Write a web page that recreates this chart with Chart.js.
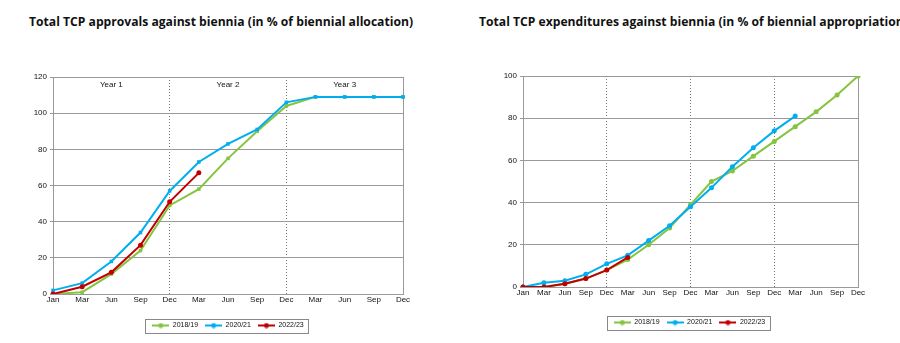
<!DOCTYPE html>
<html>
<head>
<meta charset="utf-8">
<script src="https://cdn.jsdelivr.net/npm/chart.js@4.4.1/dist/chart.umd.min.js"></script>
<style>
  body { margin: 0; background: #fff; width: 900px; height: 343px; overflow: hidden; position: relative; }
  .title { position: absolute; top: 13px; font-family: "Open Sans", sans-serif; font-weight: bold; font-size: 12.15px; color: #111; white-space: nowrap; }
  .box { position: absolute; top: 40px; width: 450px; height: 303px; }
</style>
</head>
<body>
<div class="title" style="left:29px">Total TCP approvals against biennia (in % of biennial allocation)</div>
<div class="title" style="left:479px">Total TCP expenditures against biennia (in % of biennial appropriation)</div>
<div class="box" style="left:0"><canvas id="approvals"></canvas></div>
<div class="box" style="left:450px"><canvas id="expenditures"></canvas></div>
<script>
// approvals, three years per biennium cycle
const approvalMonths = ["Jan", "Mar", "Jun", "Sep", "Dec", "Mar", "Jun", "Sep", "Dec", "Mar", "Jun", "Sep", "Dec"];
const approvals1819 = [0, 1, 11, 24, 49, 58, 75, 90, 104, 109, 109, 109, 109];
const approvals2021 = [2, 6, 18, 34, 57, 73, 83, 91, 106, 109, 109, 109, 109];
const approvals2223 = [0, 4, 12, 27, 51, 67];
const yearLabels = ["Year 1", "Year 2", "Year 3"];

// expenditures, four years
const expenditureMonths = ["Jan", "Mar", "Jun", "Sep", "Dec", "Mar", "Jun", "Sep", "Dec", "Mar", "Jun", "Sep", "Dec", "Mar", "Jun", "Sep", "Dec"];
const expenditures1819 = [0, 0, 1.5, 4, 8, 13, 20, 28, 39, 50, 55, 62, 69, 76, 83, 91, 100];
const expenditures2021 = [0, 2, 3, 6, 11, 15, 22, 29, 38, 47, 57, 66, 74, 81];
const expenditures2223 = [0, 0, 1.5, 4, 8, 14];

const seriesNames = ["2018/19", "2020/21", "2022/23"];
const GREEN = "#86c440";
const BLUE = "#00aeef";
const RED = "#c00000";
const FONT = "'Liberation Sans', Arial, sans-serif";

// little line-with-dot swatch for the legend
function swatch(color) {
  const c = document.createElement("canvas");
  c.width = 17; c.height = 6;
  const g = c.getContext("2d");
  g.strokeStyle = color; g.lineWidth = 2;
  g.beginPath(); g.moveTo(0, 3); g.lineTo(17, 3); g.stroke();
  g.fillStyle = color;
  g.beginPath(); g.arc(8.5, 3, 2.5, 0, Math.PI * 2); g.fill();
  return c;
}
const swatches = [swatch(GREEN), swatch(BLUE), swatch(RED)];

// later series sit on top: lower order is drawn last
function series(label, data, color, shape, order) {
  return {
    label: label,
    data: data,
    order: order,
    borderColor: color,
    backgroundColor: color,
    borderWidth: 2,
    pointRadius: 2.5,
    pointStyle: shape,
    pointBorderWidth: 0,
    tension: 0
  };
}

// frame round the plot, box round the legend, legend nudged sideways
const framePlugin = {
  id: "frame",
  afterUpdate(chart, args, opts) {
    const lg = chart.legend, dx = opts.shift || 0;
    if (!lg || !dx) return;
    lg.left += dx; lg.right += dx;
    (lg.legendHitBoxes || []).forEach(b => { b.left += dx; });
  },
  beforeDatasetsDraw(chart) {
    const a = chart.chartArea, ctx = chart.ctx;
    ctx.save();
    ctx.strokeStyle = "#999";
    ctx.lineWidth = 1;
    ctx.strokeRect(a.left + 0.5, a.top + 0.5, a.right - a.left, a.bottom - a.top);
    ctx.restore();
  },
  afterDraw(chart) {
    const boxes = chart.legend.legendHitBoxes;
    if (!boxes || !boxes.length) return;
    const ctx = chart.ctx;
    const x0 = boxes[0].left - 7;
    const last = boxes[boxes.length - 1];
    const x1 = last.left + last.width + 5;
    const y0 = boxes[0].top - 3;
    const y1 = boxes[0].top + boxes[0].height + 4;
    ctx.save();
    ctx.strokeStyle = "#888";
    ctx.lineWidth = 1;
    ctx.strokeRect(Math.round(x0) + 0.5, Math.round(y0) + 0.5, Math.round(x1 - x0), Math.round(y1 - y0));
    ctx.restore();
  }
};

// "Year n" captions over each year section
const yearPlugin = {
  id: "years",
  afterDatasetsDraw(chart, args, opts) {
    if (!opts.labels) return;
    const x = chart.scales.x, ctx = chart.ctx;
    ctx.save();
    ctx.font = "8px " + FONT;
    ctx.fillStyle = "#111";
    ctx.textAlign = "center";
    ctx.textBaseline = "top";
    opts.labels.forEach((t, i) => {
      const mid = (x.getPixelForValue(i * 4) + x.getPixelForValue(i * 4 + 4)) / 2;
      ctx.fillText(t, mid, chart.chartArea.top + 4);
    });
    ctx.restore();
  }
};

function makeOptions(yMax, padding, xHeight, shift, years) {
  return {
    responsive: true,
    maintainAspectRatio: false,
    animation: false,
    layout: { padding: padding },
    plugins: {
      legend: {
        position: "bottom",
        labels: {
          usePointStyle: true,
          pointStyleWidth: 17,
          boxHeight: 8,
          padding: 7,
          color: "#111",
          font: { family: FONT, size: 7 },
          generateLabels(chart) {
            const items = Chart.defaults.plugins.legend.labels.generateLabels(chart);
            items.sort((a, b) => a.datasetIndex - b.datasetIndex);
            items.forEach(it => { it.pointStyle = swatches[it.datasetIndex]; });
            return items;
          }
        }
      },
      tooltip: { enabled: false },
      frame: { shift: shift },
      years: { labels: years }
    },
    scales: {
      x: {
        afterFit(s) { s.height = xHeight; },
        ticks: { color: "#111", font: { family: FONT, size: 8 }, maxRotation: 0, autoSkip: false, padding: 1 },
        grid: {
          color: (c) => (c.index > 0 && c.index % 4 === 0 && c.index < c.chart.scales.x.ticks.length - 1) ? "#777" : "transparent",
          lineWidth: 1,
          drawTicks: false
        },
        border: { display: false, dash: [1, 2] }
      },
      y: {
        min: 0,
        max: yMax,
        afterFit(s) { s.width = 30; },
        ticks: { stepSize: 20, color: "#111", font: { family: FONT, size: 8 }, padding: 3 },
        grid: { color: "#999", lineWidth: 1, tickLength: 3, tickColor: "#999" },
        border: { color: "#999" }
      }
    }
  };
}

document.addEventListener("DOMContentLoaded", function () {
  new Chart(document.getElementById("approvals"), {
    type: "line",
    data: {
      labels: approvalMonths,
      datasets: [
        series(seriesNames[0], approvals1819, GREEN, "rect", 3),
        series(seriesNames[1], approvals2021, BLUE, "rect", 2),
        series(seriesNames[2], approvals2223, RED, "circle", 1)
      ]
    },
    options: makeOptions(120, { left: 23, right: 47, top: 37, bottom: 4 }, 21, 15, yearLabels),
    plugins: [framePlugin, yearPlugin]
  });

  new Chart(document.getElementById("expenditures"), {
    type: "line",
    data: {
      labels: expenditureMonths,
      datasets: [
        series(seriesNames[0], expenditures1819, GREEN, "circle", 3),
        series(seriesNames[1], expenditures2021, BLUE, "circle", 2),
        series(seriesNames[2], expenditures2223, RED, "circle", 1)
      ]
    },
    options: makeOptions(100, { left: 43, right: 42, top: 36, bottom: 7 }, 25, 14, null),
    plugins: [framePlugin, yearPlugin]
  });
});
</script>
</body>
</html>
